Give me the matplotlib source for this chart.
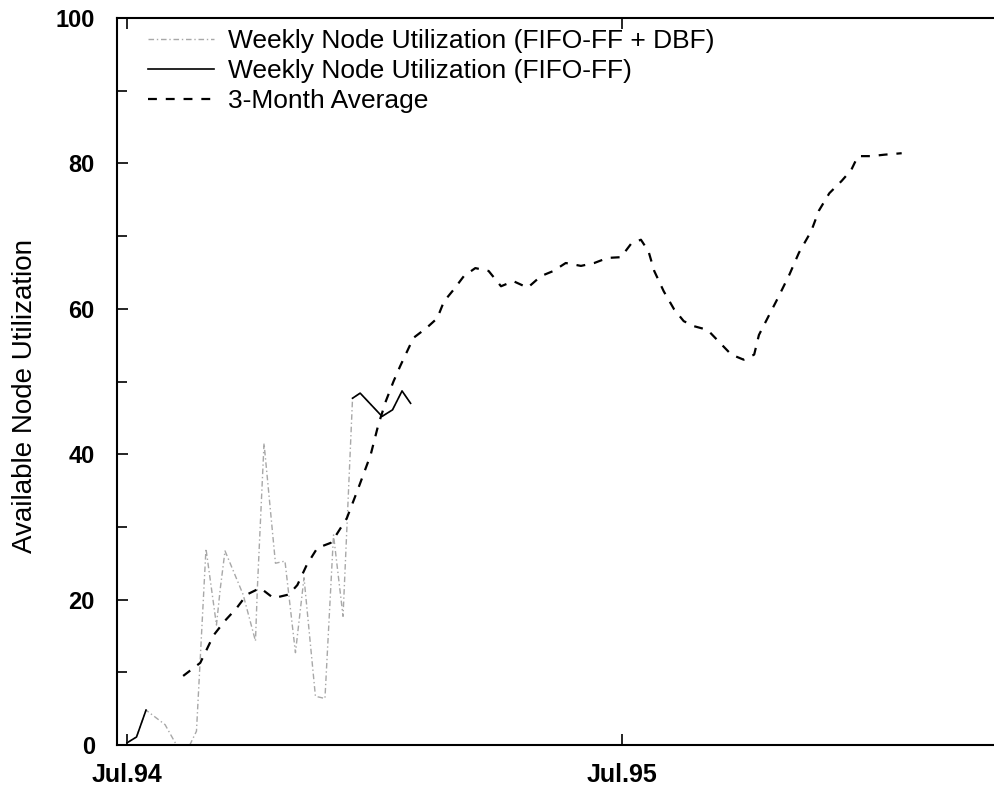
import numpy as np
import matplotlib
matplotlib.use("Agg")
import matplotlib.pyplot as plt
from matplotlib.ticker import MultipleLocator

plt.rcParams['font.family'] = ['Liberation Sans', 'DejaVu Sans']

# x positions are weeks counted from Jul.94
tick_weeks = [0, 52]
tick_labels = ['Jul.94', 'Jul.95']

# weekly utilization, FIFO-FF + DBF (faint line in the scan)
dbf_weeks = [0, 1, 2, 4, 5.2, 6.6, 7.3, 8.3, 9.4, 9.8, 10.3, 12.2, 13.5, 13.7,
             14.4, 15.6, 16.6, 17.0, 17.7, 18.6, 19.8, 20.8, 21.7, 22.7, 23.7,
             24.5, 26.8, 27.9, 28.9, 29.8]
dbf_values = [0.3, 1.1, 4.8, 2.8, 0, 0, 1.9, 27, 16.5, 21.5, 26.7, 20.7, 14.3,
              21.6, 41.5, 25, 25.3, 20.7, 12.7, 23, 6.7, 6.4, 28.9, 17.7, 47.7,
              48.4, 45.2, 46.1, 48.7, 47]

# weekly utilization, FIFO-FF (solid pieces)
ff_weeks = [0, 1, 2, np.nan, 23.7, 24.5, 26.8, 27.9, 28.9, 29.8]
ff_values = [0.3, 1.1, 4.8, np.nan, 47.7, 48.4, 45.2, 46.1, 48.7, 47]

# 3-month average
avg_weeks = [5.9, 7.7, 9.1, 10.3, 11.5, 12.6, 14.0, 15.4, 17.0, 17.9, 18.9, 20.0,
             21.4, 21.8, 23.1, 24.3, 25.6, 26.4, 27.2, 28.0, 28.7, 30.1, 31.5,
             32.6, 33.3, 34.3, 35.4, 36.6, 38.0, 39.3, 40.6, 42.1, 43.5, 44.8,
             46.1, 47.7, 49.1, 50.5, 51.9, 53.0, 54.0, 54.8, 55.4, 56.4, 57.5,
             58.5, 59.6, 61.0, 62.1, 63.5, 64.8, 65.9, 66.4, 67.3, 68.4, 69.6,
             70.6, 71.9, 72.7, 73.8, 75.1, 76.1, 76.8, 78.2, 79.6, 81.4]
avg_values = [9.5, 11.3, 15.1, 17.1, 18.8, 20.7, 21.6, 20.2, 20.7, 22.0, 24.8,
              27.1, 27.8, 28.5, 31.2, 35.3, 39.9, 44.0, 47.3, 50.0, 52.1, 56.0,
              57.4, 58.7, 61.0, 62.6, 64.5, 65.6, 65.2, 63.1, 63.8, 62.9, 64.5,
              65.2, 66.3, 65.9, 66.3, 67.0, 67.1, 69.0, 69.5, 67.9, 65.2, 62.4,
              59.9, 58.3, 57.6, 57.1, 55.6, 53.7, 53.0, 53.7, 56.4, 58.7, 61.5,
              64.7, 67.7, 70.7, 73.5, 75.9, 77.6, 79.1, 81.0, 81.0, 81.2, 81.4]

fig = plt.figure(figsize=(9.94, 7.88), dpi=100)
ax = fig.add_axes([117 / 994, 1 - 745 / 788, 1 - 117 / 994, (745 - 18) / 788])

ax.plot(dbf_weeks, dbf_values, color='#a8a8a8', lw=1.0,
        linestyle=(0, (4, 2, 1, 2)),
        label='Weekly Node Utilization (FIFO-FF + DBF)')
ax.plot(ff_weeks, ff_values, color='black', lw=1.2,
        label='Weekly Node Utilization (FIFO-FF)')
ax.plot(avg_weeks, avg_values, color='black', lw=1.6,
        linestyle=(0, (4, 4)), label='3-Month Average')

ax.set_xlim(-1.05, 91.1)
ax.set_ylim(0, 100)
ax.set_xticks(tick_weeks)
ax.set_xticklabels(tick_labels)
ax.yaxis.set_major_locator(MultipleLocator(20))
ax.yaxis.set_minor_locator(MultipleLocator(10))

ax.tick_params(axis='both', which='both', direction='in', width=1.2,
               labelsize=17)
ax.tick_params(axis='y', which='major', length=8, pad=16)
ax.tick_params(axis='y', which='minor', length=7)
ax.tick_params(axis='x', which='major', length=8, pad=13, top=True,
               labelsize=18)
for lab in ax.get_xticklabels() + ax.get_yticklabels():
    lab.set_fontweight('bold')

ax.spines['right'].set_visible(False)
for side in ['left', 'top', 'bottom']:
    ax.spines[side].set_linewidth(1.5)

ax.set_ylabel('Available Node Utilization', fontsize=20)
ax.yaxis.set_label_coords(-0.09, 0.48)

ax.legend(loc='upper left', bbox_to_anchor=(148 / 994, 1 - 29 / 788),
          bbox_transform=fig.transFigure, frameon=False, fontsize=19,
          handlelength=2.5, handletextpad=0.55, labelspacing=0.23,
          borderpad=0, borderaxespad=0)

fig.savefig('out.png', dpi=100)
